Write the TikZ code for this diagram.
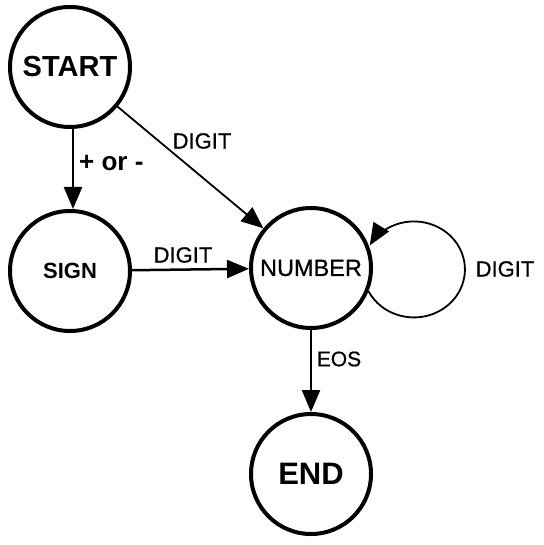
\documentclass[tikz,border=0pt]{standalone}
\usepackage{fontspec}
\setmainfont{Liberation Sans}
\newfontfamily\semifont[FakeBold=0.8]{Liberation Sans}
\usetikzlibrary{arrows.meta}
\begin{document}
\begin{tikzpicture}[x=1pt,y=1pt,
  state/.style={circle,draw=black,line width=4pt,minimum size=120pt,inner sep=0pt,fill=white},
  conn/.style={line width=2.5pt,-{Triangle[length=22pt,width=18pt]}},
  thinconn/.style={line width=1.8pt,-{Triangle[length=22pt,width=18pt]}},
  lbl/.style={inner sep=0pt,font=\semifont\fontsize{22}{26}\selectfont},
  blbl/.style={inner sep=0pt,font=\fontsize{26}{30}\selectfont\bfseries}]
\useasboundingbox (0,0) rectangle (543,-545);
\node[state,font=\fontsize{29}{33}\selectfont\bfseries] (start) at (70,-67) {START};
\node[state,font=\fontsize{22}{26}\selectfont\bfseries] (sign) at (70,-271) {SIGN};
\node[state,font=\semifont\fontsize{23.5}{27}\selectfont] (number) at (311,-268) {\raisebox{-2pt}{NUMBER}};
\node[state,font=\fontsize{31}{35}\selectfont\bfseries] (end) at (311,-474) {END};
\draw[conn] ([xshift=3pt]start.south) -- ([xshift=3pt]sign.north);
\draw[thinconn] (start) -- (number);
\draw[conn] (sign) -- (number);
\draw[thinconn] (number.-22) arc[start angle=207,end angle=510,x radius=51,y radius=48];
\draw[conn] (number) -- (end);
\node[blbl,anchor=west] (lpm) at (79,-163) {+ or -};
\node[lbl] (ld1) at (202,-141) {DIGIT};
\node[lbl] (ld2) at (183,-255) {DIGIT};
\node[lbl] (ld3) at (505,-269) {DIGIT};
\node[lbl,font=\semifont\fontsize{21}{25}\selectfont] (leos) at (339,-359) {EOS};
\end{tikzpicture}
\end{document}
